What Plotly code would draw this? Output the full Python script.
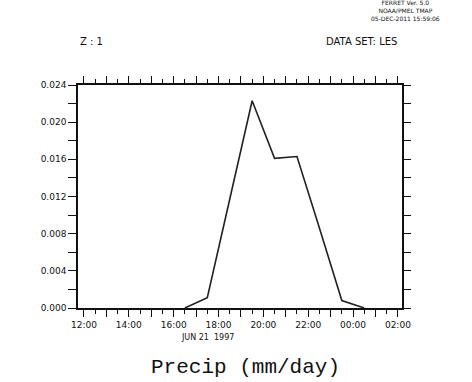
import plotly.graph_objects as go

# Hourly precipitation time series (mm/day)
times = [
    "1997-06-21 16:30", "1997-06-21 17:30", "1997-06-21 18:30", "1997-06-21 19:30",
    "1997-06-21 20:30", "1997-06-21 21:30", "1997-06-21 22:30", "1997-06-21 23:30",
    "1997-06-22 00:30",
]
precip = [0.0, 0.0011, 0.0117, 0.0223, 0.0161, 0.0163, 0.0086, 0.0008, 0.0]

# Axis tick positions and labels
hour_ticks = [
    "1997-06-21 12:00", "1997-06-21 13:00", "1997-06-21 14:00", "1997-06-21 15:00",
    "1997-06-21 16:00", "1997-06-21 17:00", "1997-06-21 18:00", "1997-06-21 19:00",
    "1997-06-21 20:00", "1997-06-21 21:00", "1997-06-21 22:00", "1997-06-21 23:00",
    "1997-06-22 00:00", "1997-06-22 01:00", "1997-06-22 02:00",
]
hour_labels = ["12:00", "", "14:00", "", "16:00", "", "18:00", "", "20:00", "",
               "22:00", "", "00:00", "", "02:00"]
y_ticks = [0.000, 0.002, 0.004, 0.006, 0.008, 0.010, 0.012, 0.014,
           0.016, 0.018, 0.020, 0.022, 0.024]
y_labels = ["0.000", "", "0.004", "", "0.008", "", "0.012", "",
            "0.016", "", "0.020", "", "0.024"]
x_range = ["1997-06-21 11:44", "1997-06-22 02:11"]
y_range = [0.0, 0.024]

tick_font = dict(family="DejaVu Sans", size=9, color="#111")

fig = go.Figure()
fig.add_trace(go.Scatter(x=times, y=precip, mode="lines",
                         line=dict(color="#222", width=1.6),
                         hoverinfo="skip", showlegend=False))
# invisible trace to activate the top/right axes
fig.add_trace(go.Scatter(x=times, y=precip, xaxis="x2", yaxis="y2", mode="lines",
                         line=dict(width=0), opacity=0, hoverinfo="skip",
                         showlegend=False))

axis_common = dict(showgrid=False, zeroline=False, showline=True,
                   linecolor="#111", linewidth=1.6, ticks="outside",
                   tickcolor="#111", tickwidth=1.3)
half_hour = 30 * 60 * 1000

fig.update_layout(
    width=472, height=382,
    margin=dict(l=78, r=70, t=85, b=74),
    paper_bgcolor="white", plot_bgcolor="white",
    xaxis=dict(**axis_common, type="date", range=x_range,
               tickmode="array", tickvals=hour_ticks, ticktext=hour_labels,
               ticklen=7, tickfont=tick_font,
               minor=dict(dtick=half_hour, ticklen=4, tickcolor="#111",
                          tickwidth=1.2, ticks="outside")),
    xaxis2=dict(**axis_common, type="date", range=x_range, overlaying="x",
                side="top", tickmode="array", tickvals=hour_ticks,
                showticklabels=False, ticklen=7,
                minor=dict(dtick=half_hour, ticklen=4, tickcolor="#111",
                           tickwidth=1.2, ticks="outside")),
    yaxis=dict(**axis_common, range=y_range, tickmode="array",
               tickvals=y_ticks, ticktext=y_labels, ticklen=8,
               tickfont=tick_font),
    yaxis2=dict(**axis_common, range=y_range, overlaying="y", side="right",
                tickmode="array", tickvals=y_ticks, showticklabels=False,
                ticklen=7),
)

PLOT_W, PLOT_H, L, T = 324, 223, 78, 85


def add_text(text, px, py, size, family="DejaVu Sans"):
    """Place a text label centred on a pixel position of the page."""
    fig.add_annotation(text=text, xref="paper", yref="paper",
                       x=(px - L) / PLOT_W, y=1 - (py - T) / PLOT_H,
                       xanchor="center", yanchor="middle", showarrow=False,
                       align="center",
                       font=dict(family=family, size=size, color="#111"))


add_text("JUN 21  1997", 207, 337, 8)
add_text("Precip (mm/day)", 245, 367, 21, family="Liberation Mono")
add_text("Z : 1", 91, 41, 10)
add_text("DATA SET: LES", 361, 41, 10)
add_text("FERRET Ver. 5.0<br>NOAA/PMEL TMAP<br>05-DEC-2011 15:59:06", 405, 10.5, 6)

fig.write_html("out.html")
